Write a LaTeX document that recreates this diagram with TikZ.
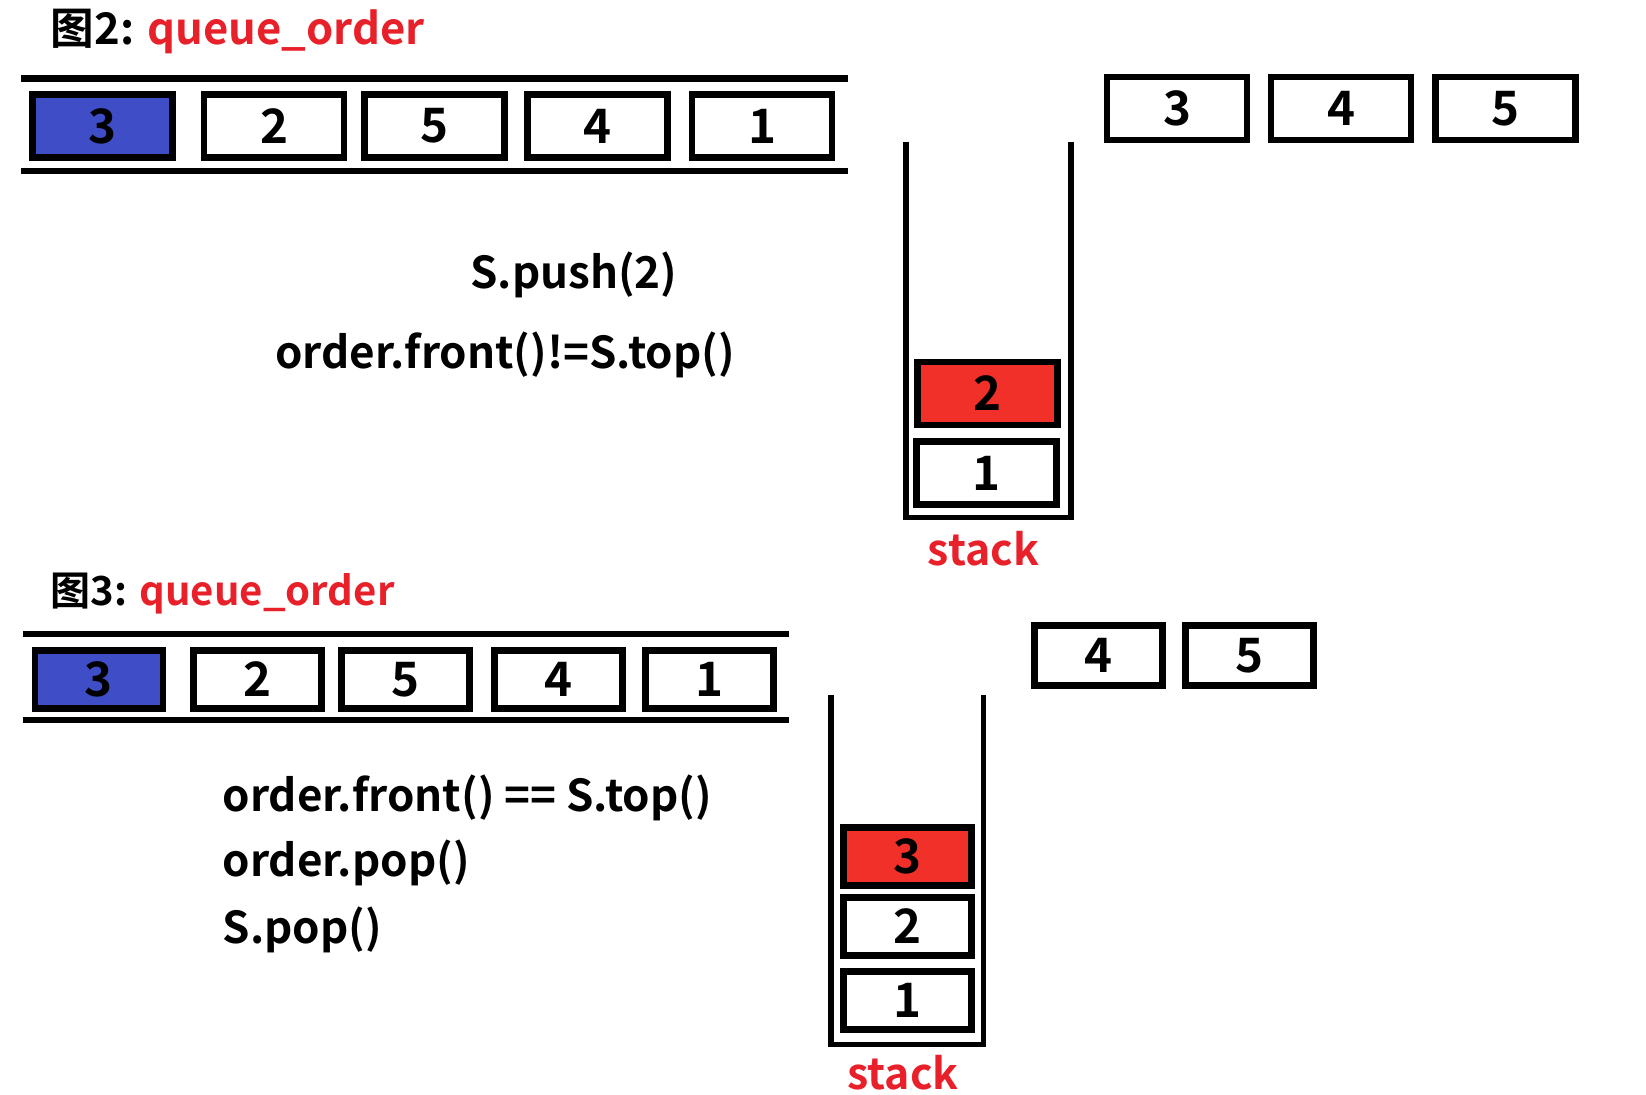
\documentclass[tikz,border=0pt]{standalone}
\usepackage{fontspec}
\setmainfont{Noto Sans CJK SC}[BoldFont={Noto Sans CJK SC Bold}]
\usetikzlibrary{positioning}
\definecolor{headblue}{HTML}{3F4DC6}
\definecolor{topred}{HTML}{F2302A}
\definecolor{labelred}{HTML}{E8202A}

\begin{document}
\begin{tikzpicture}[x=0.01cm, y=-0.01cm,
  cell/.style={rectangle, draw=black, line width=1.8pt, fill=white, inner sep=0pt,
               font=\fontsize{13.5}{16}\selectfont\bfseries},
  bigcell/.style={cell, minimum width=1.40cm, minimum height=0.63cm},
  smallcell/.style={cell, minimum width=1.28cm, minimum height=0.58cm},
  rail/.style={line width=1.9pt},
  wall/.style={line width=1.5pt},
  code/.style={font=\fontsize{12.5}{15}\selectfont\bfseries, inner sep=0pt},
  title/.style={font=\fontsize{12.4}{15}\selectfont\bfseries, inner sep=0pt, anchor=west},
  stacklabel/.style={font=\fontsize{12.2}{15}\selectfont\bfseries, text=labelred, inner sep=0pt},
]
\useasboundingbox (0,0) rectangle (1646,1094);

% ---------- figure 2 ----------
\node[title] (t2) at (50,32) {图2: \textcolor{labelred}{queue\_order}};

% queue rails
\draw[rail] (21,78.7) -- (848,78.7);
\draw[rail] (21,171) -- (848,171);

% queue cells
\node[bigcell, fill=headblue] (qa1) at (102.4,126) {3};
\node[bigcell] (qa2) at (274,126) {2};
\node[bigcell] (qa3) at (434.5,126) {5};
\node[bigcell] (qa4) at (597.5,126) {4};
\node[bigcell] (qa5) at (762,126) {1};

% stack
\draw[wall] (906,141.7) -- (906,517.5) -- (1071,517.5) -- (1071,141.7);
\node[bigcell, fill=topred] (sa2) at (987.5,393.5) {2};
\node[bigcell] (sa1) at (986.5,473) {1};
\node[stacklabel] (la) at (983.5,549) {stack};

% pending elements
\node[bigcell] (ra3) at (1177,108.6) {3};
\node[bigcell] (ra4) at (1341,108.6) {4};
\node[bigcell] (ra5) at (1505.5,108.6) {5};

% operations
\node[code] (push) at (574,275) {S.push(2)};
\node[code] (cmpa) at (505,355) {order.front()!=S.top()};

% ---------- figure 3 ----------
\node[title, font=\fontsize{11.4}{14}\selectfont\bfseries] (t3) at (50,594) {图3: \textcolor{labelred}{queue\_order}};

% queue rails
\draw[rail] (23,634) -- (789,634);
\draw[rail] (23,720) -- (789,720);

% queue cells
\node[smallcell, fill=headblue] (qb1) at (99,679.5) {3};
\node[smallcell] (qb2) at (257.5,679.5) {2};
\node[smallcell] (qb3) at (405.5,679.5) {5};
\node[smallcell] (qb4) at (558.5,679.5) {4};
\node[smallcell] (qb5) at (709.5,679.5) {1};

% stack
\draw[wall] (831,695) -- (831,1044.5) -- (983.5,1044.5) -- (983.5,695);
\node[smallcell, fill=topred] (sb3) at (907.5,856.5) {3};
\node[smallcell] (sb2) at (907.5,926.5) {2};
\node[smallcell] (sb1) at (907.5,1000.5) {1};
\node[stacklabel] (lb) at (903,1073) {stack};

% pending elements
\node[smallcell, minimum height=0.6cm] (rb4) at (1098.5,655.5) {4};
\node[smallcell, minimum height=0.6cm] (rb5) at (1249.5,655.5) {5};

% operations
\node[code, anchor=west] (cmpb) at (222,798) {order.front() == S.top()};
\node[code, anchor=west] (popq) at (222,863) {order.pop()};
\node[code, anchor=west] (pops) at (222,930) {S.pop()};
\end{tikzpicture}
\end{document}
